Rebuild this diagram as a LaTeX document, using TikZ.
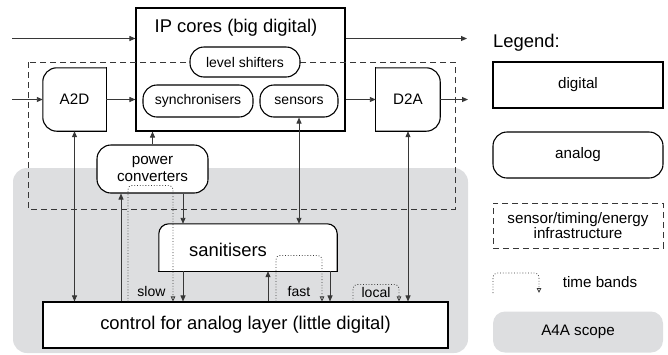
\documentclass[tikz,border=0pt]{standalone}
\usepackage{fontspec}
\setmainfont{Liberation Sans}
\usetikzlibrary{arrows.meta}

\definecolor{scopegrey}{RGB}{221,222,224}
\definecolor{wiregrey}{RGB}{55,55,55}

\tikzset{
  digital/.style={draw, line width=1.1pt, fill=white, inner sep=0pt},
  analog/.style={digital, rounded corners=14pt},
  outline/.style={line width=1.1pt},
  bigtext/.style={font=\fontsize{18.4}{21}\selectfont},
  smalltext/.style={font=\fontsize{14}{16}\selectfont},
  legtext/.style={font=\fontsize{15.2}{17}\selectfont},
  conn/.style={draw=wiregrey, line width=0.9pt, ->},
  band/.style={draw=wiregrey, line width=0.8pt, dotted, rounded corners=4pt,
    -{Triangle[open,length=5pt,width=4.5pt]}},
  infra/.style={draw=wiregrey, line width=0.9pt, dash pattern=on 6pt off 4pt},
  scopebox/.style={fill=scopegrey, rounded corners=12pt, inner sep=0pt},
}

\begin{document}
\begin{tikzpicture}[x=1pt, y=-1pt, >={Triangle[length=6pt,width=5pt]}]
  \useasboundingbox (0,0) rectangle (668,354);

  % A4A scope and the big digital block
  \fill[scopegrey, rounded corners=14pt] (13,168) rectangle (468,353);
  \node[digital, minimum width=209, minimum height=123] (ip) at (240.5,69.5) {};
  \node[bigtext, anchor=base] (iptitle) at (236,32) {IP cores (big digital)};

  % sensor/timing/energy infrastructure
  \draw[infra] (28,62) rectangle (455,209);

  \node[analog, smalltext, minimum width=110, minimum height=30] (shift) at (245,62) {level shifters};
  \node[analog, smalltext, minimum width=110, minimum height=32] (sync) at (198,101) {synchronisers};
  \node[analog, smalltext, minimum width=78, minimum height=32] (sens) at (299,101) {sensors};

  % converters, rounded on one side only
  \node[legtext, minimum width=63, minimum height=63, inner sep=0pt] (a2d) at (74.5,99.5) {A2D};
  \draw[outline, rounded corners=14pt] (a2d.north east) -- (a2d.north west) -- (a2d.south west) -- (a2d.south east);
  \draw[outline, line cap=rect] (a2d.south east) -- (a2d.north east);
  \node[legtext, minimum width=64, minimum height=63, inner sep=0pt] (d2a) at (408,99.5) {D2A};
  \draw[outline, rounded corners=14pt] (d2a.north west) -- (d2a.north east) -- (d2a.south east) -- (d2a.south west);
  \draw[outline, line cap=rect] (d2a.south west) -- (d2a.north west);

  \node[analog, legtext, align=center, minimum width=111, minimum height=48] (pc) at (152.5,169) {power\\converters};

  \node[minimum width=178, minimum height=47, inner sep=0pt] (sanit) at (248,247.5) {};
  \filldraw[outline, fill=white, rounded corners=10pt] (sanit.south west) -- (sanit.north west) -- (sanit.north east) -- (sanit.south east);
  \draw[outline, line cap=rect] (sanit.south west) -- (sanit.south east);
  \node[bigtext, anchor=base] (sanittext) at (228,256) {sanitisers};

  \node[digital, bigtext, minimum width=405, minimum height=46] (ctrl) at (245.5,325) {control for analog layer (little digital)};

  % signals in and out
  \coordinate (in1) at (12,38.5);
  \coordinate (out1) at (467,38.5);
  \coordinate (in2) at (12,99.5);
  \coordinate (out2) at (468,99.5);
  \draw[conn] (in1) -- (in1 -| ip.west);
  \draw[conn] (out1 -| ip.east) -- (out1);
  \draw[conn] (in2) -- (a2d.west);
  \draw[conn] (a2d.east) -- (a2d.east -| ip.west);
  \draw[conn] (d2a.west -| ip.east) -- (d2a.west);
  \draw[conn] (d2a.east) -- (out2);

  % links through the control layer
  \coordinate (pcin) at ([xshift=-31.5pt]pc.south);
  \coordinate (pcout) at ([xshift=30.5pt]pc.south);
  \coordinate (sanin) at ([xshift=20pt]sanit.south);
  \coordinate (sanout) at ([xshift=82pt]sanit.south);
  \draw[conn, <->] (a2d.south) -- (a2d.south |- ctrl.north);
  \draw[conn] (pc.north) -- (pc.north |- ip.south);
  \draw[conn, <->] (sens.south) -- (sens.south |- sanit.north);
  \draw[conn, <->] (d2a.south) -- (d2a.south |- ctrl.north);
  \draw[conn] (pcin |- ctrl.north) -- (pcin);
  \draw[conn] (pcout) -- (pcout |- sanit.north);
  \draw[conn] (pcout |- sanit.south) -- (pcout |- ctrl.north);
  \draw[conn] (sanin |- ctrl.north) -- (sanin);
  \draw[conn] (sanout) -- (sanout |- ctrl.north);

  % time bands
  \draw[band] ([xshift=-117.5pt]ctrl.north) -- ++(0,-116) -| ([xshift=-72.5pt]ctrl.north);
  \draw[band] ([xshift=30.5pt]ctrl.north) -- ++(0,-46) -| ([xshift=76.5pt]ctrl.north);
  \draw[band] ([xshift=107.5pt]ctrl.north) -- ++(0,-17) -| ([xshift=153.5pt]ctrl.north);
  \node[smalltext, anchor=base] (slow) at (151.5,296) {slow};
  \node[smalltext, anchor=base] (fast) at (299,296) {fast};
  \node[smalltext, anchor=base] (local) at (376,297) {local};

  % legend
  \node[bigtext, anchor=base west, inner sep=0pt] (legtitle) at (493,47) {Legend:};
  \node[digital, legtext, minimum width=170, minimum height=46] (legdig) at (578,85) {digital};
  \node[analog, legtext, minimum width=170, minimum height=46] (legana) at (578,155) {analog};
  \node[infra, align=center, inner sep=0pt, minimum width=170, minimum height=45,
    font=\fontsize{15.2}{14}\selectfont] (leginf) at (578,225.5) {sensor/timing/energy\\infrastructure};
  \coordinate (bandstart) at (493,293);
  \coordinate (bandend) at (539,293);
  \draw[band] (bandstart) |- ([yshift=20pt]bandend) -- (bandend);
  \node[legtext, anchor=base] (legband) at (600,287) {time bands};
  \node[scopebox, legtext, minimum width=170, minimum height=41] (legscope) at (578,332) {A4A scope};
\end{tikzpicture}
\end{document}
